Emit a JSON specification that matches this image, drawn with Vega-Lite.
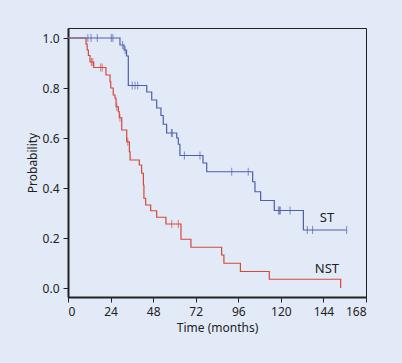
{
  "$schema": "https://vega.github.io/schema/vega-lite/v6.json",
  "width": 298,
  "height": 269,
  "autosize": "none",
  "padding": {"left": 68, "top": 28, "right": 36, "bottom": 66},
  "background": "#e2eaf7",
  "config": {
    "font": "Noto Sans",
    "view": {"stroke": "#222222", "strokeWidth": 1},
    "axis": {
      "domainColor": "#222222",
      "domainWidth": 2,
      "tickColor": "#222222",
      "tickSize": 5,
      "tickWidth": 1,
      "labelFontSize": 12,
      "labelColor": "#222222",
      "titleFontSize": 12,
      "titleFontWeight": "normal",
      "titleColor": "#222222",
      "grid": false
    }
  },
  "datasets": {
    "curves": [
      {"group": "ST", "t": 0, "S": 1},
      {"group": "ST", "t": 29.3, "S": 0.972},
      {"group": "ST", "t": 31.6, "S": 0.952},
      {"group": "ST", "t": 33, "S": 0.928},
      {"group": "ST", "t": 34, "S": 0.81},
      {"group": "ST", "t": 44.4, "S": 0.784},
      {"group": "ST", "t": 47.2, "S": 0.752},
      {"group": "ST", "t": 50, "S": 0.72},
      {"group": "ST", "t": 52.4, "S": 0.69},
      {"group": "ST", "t": 53.7, "S": 0.655},
      {"group": "ST", "t": 55.6, "S": 0.62},
      {"group": "ST", "t": 61.3, "S": 0.6},
      {"group": "ST", "t": 62.2, "S": 0.575},
      {"group": "ST", "t": 63.1, "S": 0.53},
      {"group": "ST", "t": 76.1, "S": 0.5},
      {"group": "ST", "t": 78.2, "S": 0.465},
      {"group": "ST", "t": 104.1, "S": 0.425},
      {"group": "ST", "t": 105.4, "S": 0.385},
      {"group": "ST", "t": 108.6, "S": 0.35},
      {"group": "ST", "t": 116.3, "S": 0.31},
      {"group": "ST", "t": 132.7, "S": 0.232},
      {"group": "ST", "t": 157.1, "S": 0.232},
      {"group": "NST", "t": 0, "S": 1},
      {"group": "NST", "t": 10.15, "S": 0.976},
      {"group": "NST", "t": 10.8, "S": 0.952},
      {"group": "NST", "t": 11.5, "S": 0.93},
      {"group": "NST", "t": 12.4, "S": 0.904},
      {"group": "NST", "t": 14.5, "S": 0.882},
      {"group": "NST", "t": 21.4, "S": 0.852},
      {"group": "NST", "t": 23.7, "S": 0.825},
      {"group": "NST", "t": 24.1, "S": 0.8},
      {"group": "NST", "t": 25.5, "S": 0.772},
      {"group": "NST", "t": 26.5, "S": 0.759},
      {"group": "NST", "t": 27.1, "S": 0.725},
      {"group": "NST", "t": 28.4, "S": 0.705},
      {"group": "NST", "t": 28.9, "S": 0.681},
      {"group": "NST", "t": 30.3, "S": 0.632},
      {"group": "NST", "t": 33.1, "S": 0.585},
      {"group": "NST", "t": 34.6, "S": 0.545},
      {"group": "NST", "t": 35, "S": 0.512},
      {"group": "NST", "t": 40.2, "S": 0.492},
      {"group": "NST", "t": 41.5, "S": 0.459},
      {"group": "NST", "t": 42.5, "S": 0.412},
      {"group": "NST", "t": 42.8, "S": 0.359},
      {"group": "NST", "t": 43.8, "S": 0.332},
      {"group": "NST", "t": 46.6, "S": 0.309},
      {"group": "NST", "t": 50, "S": 0.283},
      {"group": "NST", "t": 55.2, "S": 0.256},
      {"group": "NST", "t": 63.7, "S": 0.195},
      {"group": "NST", "t": 69.3, "S": 0.163},
      {"group": "NST", "t": 86.6, "S": 0.132},
      {"group": "NST", "t": 87.9, "S": 0.099},
      {"group": "NST", "t": 97.2, "S": 0.066},
      {"group": "NST", "t": 113.5, "S": 0.035},
      {"group": "NST", "t": 153.7, "S": 0.0}
    ],
    "censored": [
      {"group": "ST", "t": 11.2, "S": 1},
      {"group": "ST", "t": 13, "S": 1},
      {"group": "ST", "t": 16.5, "S": 1},
      {"group": "ST", "t": 24.4, "S": 1},
      {"group": "ST", "t": 25.3, "S": 1},
      {"group": "ST", "t": 30.8, "S": 0.972},
      {"group": "ST", "t": 32.2, "S": 0.952},
      {"group": "ST", "t": 36.2, "S": 0.81},
      {"group": "ST", "t": 37.8, "S": 0.81},
      {"group": "ST", "t": 39.3, "S": 0.81},
      {"group": "ST", "t": 58.3, "S": 0.62},
      {"group": "ST", "t": 58.8, "S": 0.62},
      {"group": "ST", "t": 65.6, "S": 0.53},
      {"group": "ST", "t": 74.4, "S": 0.53},
      {"group": "ST", "t": 92.3, "S": 0.465},
      {"group": "ST", "t": 101.6, "S": 0.465},
      {"group": "ST", "t": 118.6, "S": 0.31},
      {"group": "ST", "t": 119.2, "S": 0.31},
      {"group": "ST", "t": 119.7, "S": 0.31},
      {"group": "ST", "t": 125.2, "S": 0.31},
      {"group": "ST", "t": 134.9, "S": 0.232},
      {"group": "ST", "t": 137.9, "S": 0.232},
      {"group": "ST", "t": 157.1, "S": 0.232},
      {"group": "NST", "t": 13.2, "S": 0.904},
      {"group": "NST", "t": 14.0, "S": 0.904},
      {"group": "NST", "t": 18.4, "S": 0.882},
      {"group": "NST", "t": 19.3, "S": 0.882},
      {"group": "NST", "t": 27.5, "S": 0.725},
      {"group": "NST", "t": 29.3, "S": 0.681},
      {"group": "NST", "t": 33.7, "S": 0.585},
      {"group": "NST", "t": 58.5, "S": 0.256},
      {"group": "NST", "t": 62.2, "S": 0.256}
    ],
    "labels": [
      {"group": "ST", "t": 146, "S": 0.28},
      {"group": "NST", "t": 146, "S": 0.076}
    ]
  },
  "encoding": {
    "x": {
      "field": "t",
      "type": "quantitative",
      "scale": {"domain": [0, 168], "nice": false, "zero": false},
      "axis": {"values": [0, 24, 48, 72, 96, 120, 144, 168], "title": "Time (months)", "labelPadding": 4, "titlePadding": 5}
    },
    "y": {
      "field": "S",
      "type": "quantitative",
      "scale": {"domain": [-0.036, 1.04], "nice": false, "zero": false},
      "axis": {"values": [0, 0.2, 0.4, 0.6, 0.8, 1.0], "format": ".1f", "title": "Probability", "labelPadding": 4, "titlePadding": 3}
    },
    "color": {
      "field": "group",
      "type": "nominal",
      "scale": {"domain": ["ST", "NST"], "range": ["#4f5eab", "#d6473c"]},
      "legend": null
    }
  },
  "layer": [
    {
      "data": {"name": "curves"},
      "transform": [{"filter": "datum.group === 'NST'"}],
      "mark": {"type": "line", "interpolate": "step-after", "strokeWidth": 1.2}
    },
    {
      "data": {"name": "curves"},
      "transform": [{"filter": "datum.group === 'ST'"}],
      "mark": {"type": "line", "interpolate": "step-after", "strokeWidth": 1.2}
    },
    {
      "data": {"name": "censored"},
      "mark": {"type": "tick", "orient": "vertical", "size": 8, "thickness": 1}
    },
    {
      "data": {"name": "labels"},
      "mark": {"type": "text", "fontSize": 13, "color": "#222222", "align": "center", "baseline": "middle"},
      "encoding": {
        "text": {"field": "group", "type": "nominal"},
        "color": {"value": "#222222"}
      }
    }
  ]
}
